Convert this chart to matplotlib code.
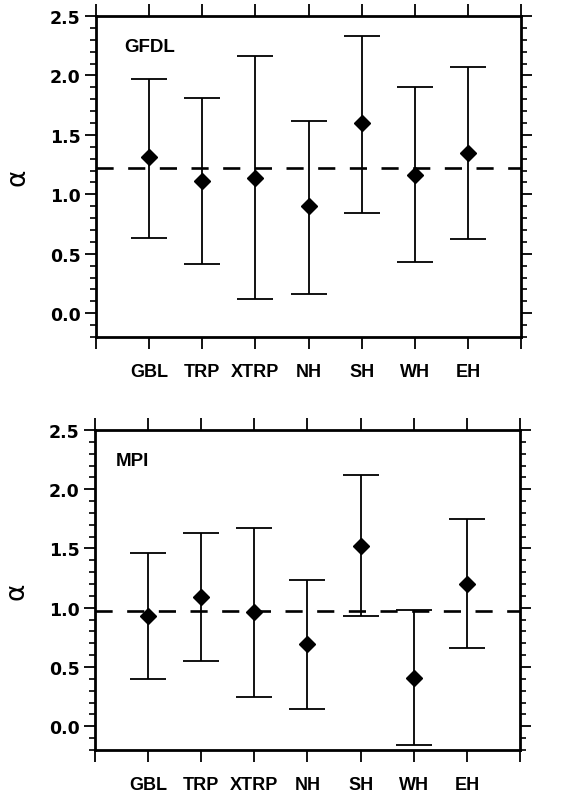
#!/usr/bin/env python3
import matplotlib
matplotlib.use("Agg")
import matplotlib.pyplot as plt
from matplotlib.ticker import MultipleLocator

REGIONS = ["GBL", "TRP", "XTRP", "NH", "SH", "WH", "EH"]

GFDL_MID = [1.31, 1.11, 1.14, 0.90, 1.60, 1.16, 1.35]
GFDL_LO = [0.63, 0.41, 0.12, 0.16, 0.84, 0.43, 0.62]
GFDL_HI = [1.97, 1.81, 2.16, 1.62, 2.33, 1.90, 2.07]
GFDL_REF = 1.22

MPI_MID = [0.93, 1.09, 0.96, 0.69, 1.52, 0.41, 1.20]
MPI_LO = [0.40, 0.55, 0.25, 0.145, 0.93, -0.16, 0.66]
MPI_HI = [1.46, 1.63, 1.67, 1.23, 2.12, 0.98, 1.75]
MPI_REF = 0.97


def draw_panel(ax, name, mid, lo, hi, ref, label_x):
    x = list(range(1, len(REGIONS) + 1))
    err = [[m - l for m, l in zip(mid, lo)], [h - m for m, h in zip(mid, hi)]]
    ax.errorbar(x, mid, yerr=err, fmt="D", color="black", ms=8.5,
                elinewidth=1.3, capsize=13, capthick=1.3, zorder=3)
    ax.axhline(ref, color="black", lw=1.9, linestyle=(0, (6.5, 5.5)), zorder=2)

    ax.set_xlim(0, 8)
    ax.set_ylim(-0.2, 2.5)
    ax.set_xticks(range(0, 9))
    ax.set_xticklabels([""] + REGIONS + [""], fontsize=13, fontweight="bold",
                       family="Liberation Sans")
    ax.yaxis.set_major_locator(MultipleLocator(0.5))
    ax.yaxis.set_minor_locator(MultipleLocator(0.1))
    ax.set_yticks([0.0, 0.5, 1.0, 1.5, 2.0, 2.5])
    ax.set_yticklabels(["0.0", "0.5", "1.0", "1.5", "2.0", "2.5"],
                       fontsize=12.5, fontweight="bold", family="DejaVu Sans")
    ax.tick_params(axis="x", which="major", direction="out", length=8.5,
                   width=1.3, top=True, pad=10)
    ax.tick_params(axis="y", which="major", direction="out", length=8,
                   width=1.3, right=True, pad=3)
    ax.tick_params(axis="y", which="minor", direction="out", length=4,
                   width=1.2, right=True)
    for s in ax.spines.values():
        s.set_linewidth(2.0)
    ax.set_ylabel("α", fontsize=19, labelpad=14)
    ax.text(label_x, 0.905, name, transform=ax.transAxes, fontsize=13.5,
            fontweight="bold", family="Liberation Sans", va="center", ha="left")


fig = plt.figure(figsize=(5.67, 8.03), dpi=100)
ax1 = fig.add_axes([0.1693, 0.5791, 0.7496, 0.3998])
ax2 = fig.add_axes([0.1675, 0.0648, 0.7496, 0.3985])

draw_panel(ax1, "GFDL", GFDL_MID, GFDL_LO, GFDL_HI, GFDL_REF, 0.066)
draw_panel(ax2, "MPI", MPI_MID, MPI_LO, MPI_HI, MPI_REF, 0.05)

fig.savefig("out.png", dpi=100)
